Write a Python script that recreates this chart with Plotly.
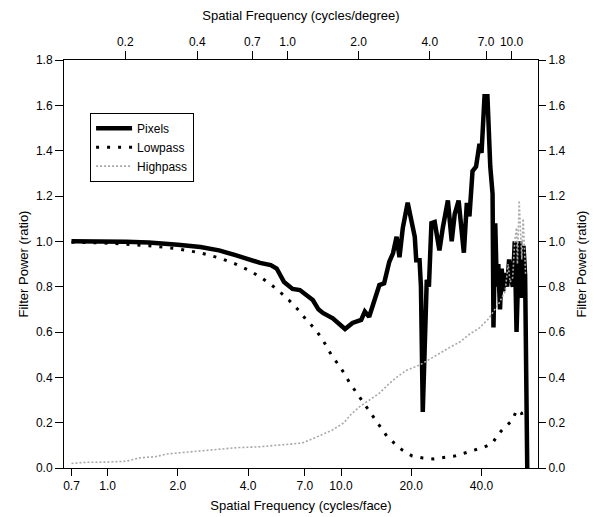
import plotly.graph_objects as go

# ---------------- data ----------------
pixels_f = [0.7, 0.8, 1.0, 1.2, 1.5, 1.8, 2.0, 2.5, 3.0, 3.5, 4.0, 4.5, 5.0, 5.3, 5.7, 6.2,
            6.66, 7.1, 7.57, 8.0, 8.36, 9.22, 10.4, 11.2, 12.2, 12.65, 13.2, 14.6, 15.3, 16.1,
            16.7, 17.3, 17.8, 18.4, 19.3, 20.7, 21.0, 21.7, 22.0, 22.4, 22.8, 23.3, 23.8, 24.4,
            25.2, 26.4, 27.3, 28.7, 29.8, 30.7, 31.9, 33.6, 34.6, 35.5, 36.6, 37.9, 39.2, 40.0,
            41.2, 42.4, 43.6, 44.6, 45.0, 45.8, 46.5, 47.2, 48.0, 48.8, 49.5, 50.5, 51.5, 52.5,
            53.5, 54.5, 55.5, 56.5, 57.5, 58.5, 59.5, 60.5, 61.5, 62.3, 62.8]
pixels_p = [1.0, 1.0, 1.0, 0.998, 0.995, 0.99, 0.985, 0.975, 0.96, 0.94, 0.92, 0.905, 0.895, 0.88, 0.82, 0.79,
            0.785, 0.76, 0.741, 0.70, 0.684, 0.66, 0.613, 0.64, 0.653, 0.69, 0.667, 0.807, 0.815, 0.91,
            0.947, 1.02, 0.93, 1.06, 1.17, 1.02, 0.917, 0.917, 0.80, 0.247, 0.60, 0.83, 0.80, 1.08,
            1.085, 0.96, 1.06, 1.18, 1.0, 1.12, 1.18, 0.95, 1.17, 1.11, 1.31, 1.33, 1.43, 1.39,
            1.64, 1.64, 1.33, 1.21, 0.62, 1.08, 0.80, 0.90, 0.70, 0.88, 0.78, 0.86, 0.80, 0.92,
            0.84, 0.80, 1.0, 0.60, 0.88, 1.0, 0.75, 0.98, 0.85, 0.30, 0.0]

lowpass_f = [0.7, 1.0, 1.5, 2.0, 2.5, 3.0, 3.5, 4.0, 4.5, 5.0, 5.5, 6.0, 6.66, 7.1, 7.66, 8.2,
             8.7, 9.14, 9.7, 10.3, 10.9, 11.6, 12.3, 13.0, 13.8, 14.8, 15.7, 16.9, 18.3, 20.2,
             22.4, 24.9, 27.8, 30.7, 33.9, 37.7, 41.2, 44.6, 46.9, 49.0, 51.5, 54.4, 56.5, 59.3, 60.6]
lowpass_p = [0.996, 0.992, 0.981, 0.967, 0.949, 0.927, 0.902, 0.874, 0.843, 0.81, 0.775, 0.739, 0.69, 0.653, 0.618, 0.578,
             0.534, 0.494, 0.459, 0.419, 0.375, 0.335, 0.296, 0.26, 0.221, 0.181, 0.141, 0.11, 0.079, 0.053,
             0.044, 0.04, 0.048, 0.053, 0.066, 0.079, 0.093, 0.11, 0.146, 0.168, 0.19, 0.212, 0.256, 0.243, 0.21]

highpass_f = [0.7, 0.8, 1.0, 1.2, 1.38, 1.6, 1.8, 2.1, 2.5, 3.1, 3.6, 4.4, 5.2, 6.0, 6.8, 7.6,
              8.4, 9.2, 10.3, 11.0, 12.0, 13.2, 14.6, 16.0, 17.3, 19.0, 21.7, 24.0, 26.4, 29.0,
              32.3, 35.5, 39.2, 43.0, 47.6, 50.5, 52.0, 53.0, 54.4, 55.5, 56.5, 57.0, 58.0, 58.8,
              59.5, 60.3, 61.0, 61.8]
highpass_p = [0.02, 0.025, 0.026, 0.03, 0.045, 0.05, 0.062, 0.068, 0.075, 0.085, 0.09, 0.093, 0.1, 0.105, 0.11, 0.13,
              0.15, 0.168, 0.2, 0.235, 0.27, 0.3, 0.33, 0.37, 0.40, 0.43, 0.454, 0.48, 0.507, 0.53,
              0.556, 0.59, 0.618, 0.66, 0.728, 0.78, 0.90, 0.82, 0.84, 1.0, 1.06, 0.90, 1.18, 1.04,
              0.92, 1.10, 0.95, 0.85]

bottom_tick_vals = [0.7, 1.0, 2.0, 4.0, 7.0, 10.0, 20.0, 40.0, 70.0]
bottom_tick_text = ["0.7", "1.0", "2.0", "4.0", "7.0", "10.0", "20.0", "40.0", "70.0"]
# top axis (cycles/degree) ticks, positioned in cycles/face units
top_tick_vals = [1.19, 2.42, 4.17, 5.9, 11.9, 24.0, 41.8, 53.8]
top_tick_text = ["0.2", "0.4", "0.7", "1.0", "2.0", "4.0", "7.0", "10.0"]

x_range = [-0.187, 1.844]
y_range = [0, 1.8]

FONT = "Liberation Sans, Arial, Helvetica, sans-serif"

fig = go.Figure()
fig.add_trace(go.Scatter(x=pixels_f, y=pixels_p, mode="lines", name="Pixels",
                         line=dict(color="black", width=4.5)))
fig.add_trace(go.Scatter(x=lowpass_f, y=lowpass_p, mode="lines", name="Lowpass",
                         line=dict(color="black", width=3, dash="3px,8px")))
fig.add_trace(go.Scatter(x=highpass_f, y=highpass_p, mode="lines", name="Highpass",
                         xaxis="x2", yaxis="y2",
                         line=dict(color="#a8a8a8", width=1.6, dash="2px,2px")))

axis_common = dict(showline=True, linecolor="black", linewidth=1, showgrid=False,
                   zeroline=False, ticks="outside", tickcolor="black", tickwidth=1,
                   automargin=False,
                   tickfont=dict(family=FONT, size=12, color="black"))
TITLE_FONT = dict(family=FONT, size=13, color="black")

fig.update_layout(
    width=598, height=517,
    margin=dict(l=64, r=60, t=60, b=49),
    paper_bgcolor="white", plot_bgcolor="white",
    font=dict(family=FONT, size=12, color="black"),
    showlegend=True,
    legend=dict(x=0.055, y=0.871, xanchor="left", yanchor="top",
                bgcolor="white", bordercolor="black", borderwidth=1,
                font=dict(family=FONT, size=12, color="black"),
                itemwidth=36, tracegroupgap=0),
    xaxis=dict(type="log", range=x_range, tickvals=bottom_tick_vals, ticktext=bottom_tick_text,
               ticklen=7,
               title=dict(text="Spatial Frequency (cycles/face)", font=TITLE_FONT, standoff=8),
               **axis_common),
    xaxis2=dict(type="log", range=x_range, overlaying="x", side="top", anchor="y",
                tickvals=top_tick_vals, ticktext=top_tick_text, ticklen=8,
                title=dict(text="Spatial Frequency (cycles/degree)", font=TITLE_FONT, standoff=11),
                **axis_common),
    yaxis=dict(range=y_range, dtick=0.2, tickformat=".1f", ticklen=8,
               title=dict(text="Filter Power (ratio)", font=TITLE_FONT, standoff=4),
               **axis_common),
    yaxis2=dict(range=y_range, dtick=0.2, tickformat=".1f", ticklen=7, overlaying="y",
                side="right", anchor="x",
                title=dict(text="Filter Power (ratio)", font=TITLE_FONT, standoff=12),
                **axis_common),
)

fig.write_html("out.html")
